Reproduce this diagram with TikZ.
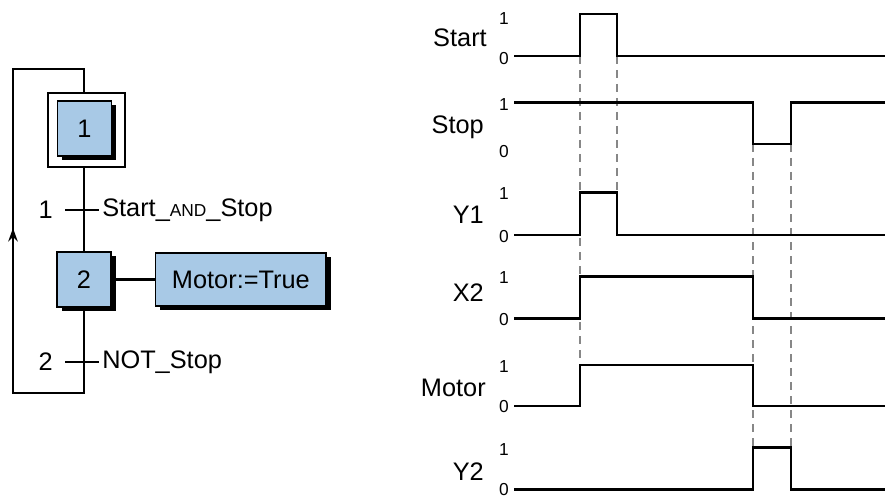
\documentclass[tikz,border=0pt]{standalone}
\usepackage{fontspec}
\setmainfont{Liberation Sans}
\usepackage{tikz}
\usetikzlibrary{arrows.meta, positioning, shadows}
\definecolor{stepblue}{RGB}{168,201,230}
\definecolor{guidegray}{RGB}{135,135,135}

\begin{document}
\begin{tikzpicture}[
  x=0.75pt, y=-0.75pt,
  txt/.style={font=\fontsize{19}{21}\selectfont, inner sep=0pt},
  lvl/.style={font=\fontsize{13}{15}\selectfont, inner sep=0pt},
  stepbox/.style={draw, line width=1.4pt, fill=stepblue, minimum width=40.5pt,
                  minimum height=41pt, txt,
                  drop shadow={shadow xshift=3.5pt, shadow yshift=-3pt, fill=black, opacity=1}},
  actbox/.style={stepbox, minimum width=128pt, minimum height=40pt},
  initbox/.style={draw, line width=1.4pt, minimum width=57.5pt, minimum height=55pt},
  link/.style={line width=1.9pt},
  sig/.style={line width=1.9pt, line join=miter},
  guide/.style={line width=1.8pt, draw=guidegray, dash pattern=on 6pt off 4.5pt}
]
\useasboundingbox (0,0) rectangle (885,499);

% sequential function chart
\node[initbox]  (init)  at (86.5,130) {};
\node[stepbox]  (step1) at (84.5,128.5) {1};
\node[stepbox]  (step2) at (84,279.5) {2};
\node[actbox, right=32pt of step2] (act) {Motor:=True};

\coordinate (tr1) at (84,210);
\coordinate (tr2) at (84,362);
\coordinate (loopbr) at (84,393);
\coordinate (loopbl) at (13,393);
\coordinate (looptl) at (13,69);
\coordinate (looptr) at (84,69);
\coordinate (arrtip) at (13,228);

\draw[link] (init.south -| step2.north) -- (step2.north);
\draw[link] (step2.south) -- (loopbr) -- (loopbl) -- (looptl) -- (looptr) -- (looptr |- init.north);
\draw[link, -{Stealth[length=10pt, width=7pt]}] (loopbl) -- (arrtip);
\draw[link] (step2.east) -- (act.west);

\draw[link] ([xshift=-14pt]tr1) -- ([xshift=11pt]tr1);
\draw[link] ([xshift=-14pt]tr2) -- ([xshift=11pt]tr2);
\node[txt, anchor=east] (num1) at (53,210) {1};
\node[txt, anchor=west] (cond1) at (102,210) {Start\_{\fontsize{13}{15}\selectfont AND}\_Stop};
\node[txt, anchor=east] (num2) at (53,362) {2};
\node[txt, anchor=west] (cond2) at (102,362) {NOT\_Stop};

% timing diagram
\draw[guide] (580,56)  -- (580,365);
\draw[guide] (617,56)  -- (617,192.7);
\draw[guide] (753,144) -- (753,447.7);
\draw[guide] (791,144) -- (791,447.7);

\draw[sig] (514,56) -- (580,56) -- (580,14) -- (617,14) -- (617,56) -- (885,56);
\draw[sig] (514,102.7) -- (753,102.7) -- (753,144) -- (791,144) -- (791,102.7) -- (885,102.7);
\draw[sig] (514,235) -- (580,235) -- (580,192.7) -- (617,192.7) -- (617,235) -- (885,235);
\draw[sig] (514,318.3) -- (580,318.3) -- (580,276.7) -- (753,276.7) -- (753,318.3) -- (885,318.3);
\draw[sig] (514,406) -- (580,406) -- (580,365) -- (753,365) -- (753,406) -- (885,406);
\draw[sig] (514,489.3) -- (753,489.3) -- (753,447.7) -- (791,447.7) -- (791,489.3) -- (885,489.3);

\node[txt, anchor=east] (nStart) at (487,38)  {Start};
\node[txt, anchor=east] (nStop)  at (484,127) {Stop};
\node[txt, anchor=east] (nY1)    at (484,215) {Y1};
\node[txt, anchor=east] (nX2)    at (484,293) {X2};
\node[txt, anchor=east] (nMotor) at (486,388) {Motor};
\node[txt, anchor=east] (nY2)    at (484,472) {Y2};

\node[lvl] (hStart) at (504,19)  {1};
\node[lvl] (lStart) at (504,59)  {0};
\node[lvl] (hStop)  at (504,105) {1};
\node[lvl] (lStop)  at (504,152) {0};
\node[lvl] (hY1)    at (504,194) {1};
\node[lvl] (lY1)    at (504,237) {0};
\node[lvl] (hX2)    at (504,278) {1};
\node[lvl] (lX2)    at (504,320) {0};
\node[lvl] (hMotor) at (504,367) {1};
\node[lvl] (lMotor) at (504,407) {0};
\node[lvl] (hY2)    at (504,450) {1};
\node[lvl] (lY2)    at (504,490) {0};
\end{tikzpicture}
\end{document}
